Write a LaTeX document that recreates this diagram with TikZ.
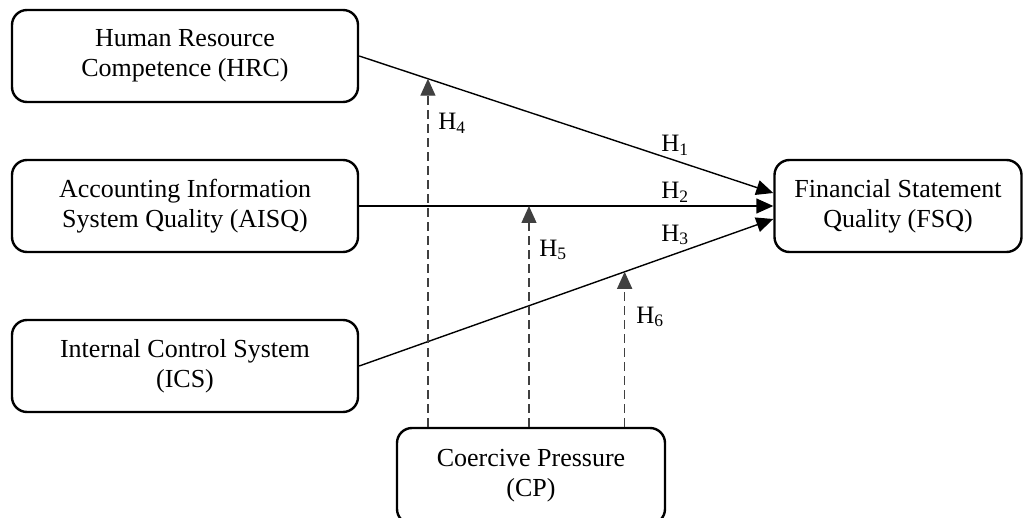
\documentclass[tikz,border=0pt]{standalone}
\usepackage{fontspec}
\setmainfont{Liberation Serif}
\usetikzlibrary{arrows.meta,calc,positioning}

\begin{document}
\begin{tikzpicture}[
    x=1pt, y=-1pt,
    font=\fontsize{26}{30}\selectfont,
    box/.style={draw, line width=2.4pt, rounded corners=15pt, align=center, minimum height=92pt, inner sep=3pt},
    varbox/.style={box, minimum width=346pt},
    depbox/.style={box, minimum width=247pt},
    modbox/.style={box, minimum width=268pt, minimum height=96pt},
    path/.style={-{Triangle[length=17pt,width=15pt]}, line width=1.4pt},
    modpath/.style={-{Triangle[length=17pt,width=15pt]}, line width=1.4pt, draw=black!75, dash pattern=on 9pt off 5pt},
    hyp/.style={font=\fontsize{25}{28}\selectfont}
]
\useasboundingbox (0,0) rectangle (1032,518);

% --- independent variables ---
\node[varbox] (HRC)  at (185,56)  {Human Resource\\Competence (HRC)};
\node[varbox] (AISQ) at (185,206) {Accounting Information\\System Quality (AISQ)};
\node[varbox] (ICS)  at (185,366) {Internal Control System\\(ICS)};

% --- dependent variable ---
\node[depbox] (FSQ) at (898,206) {Financial Statement\\Quality (FSQ)};

% --- moderator ---
\node[modbox] (CP) at (531,476) {Coercive Pressure\\(CP)};

% end points on FSQ
\coordinate (f1) at ($(FSQ.west)+(0,-13)$);
\coordinate (f3) at ($(FSQ.west)+(0,13)$);

% direct paths
\draw[path] (HRC.east) -- (f1);
\draw[path] (AISQ.east) -- (FSQ.west);
\draw[path] (ICS.east) -- (f3);

% moderating paths hit the direct paths
\coordinate (m1) at ($(HRC.east)!0.166!(f1)$);
\coordinate (m2) at ($(AISQ.east)!0.41!(FSQ.west)$);
\coordinate (m3) at ($(ICS.east)!0.641!(f3)$);
\draw[modpath] (CP.north -| m1) -- (m1);
\draw[modpath] (CP.north -| m2) -- (m2);
\draw[modpath] (CP.north -| m3) -- (m3);

% hypothesis labels
\node[hyp] (h1) at (675,145) {H\textsubscript{1}};
\node[hyp] (h2) at (675,192) {H\textsubscript{2}};
\node[hyp] (h3) at (675,235) {H\textsubscript{3}};
\node[hyp] (h4) at (452,123) {H\textsubscript{4}};
\node[hyp] (h5) at (553,250) {H\textsubscript{5}};
\node[hyp] (h6) at (650,317) {H\textsubscript{6}};

\end{tikzpicture}
\end{document}
